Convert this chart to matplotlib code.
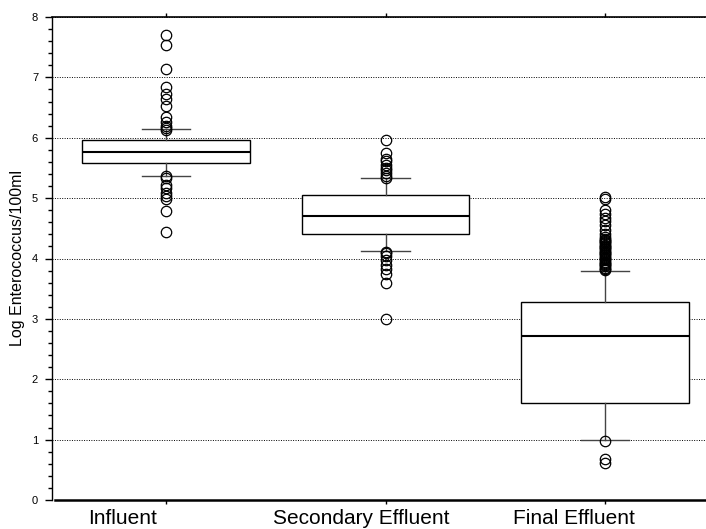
import matplotlib
matplotlib.use("Agg")
import matplotlib.pyplot as plt
import matplotlib.transforms as mtransforms

plt.rcParams['font.family'] = ['Liberation Sans', 'DejaVu Sans']

# groups and box statistics (log Enterococcus / 100 ml)
groups = ["Influent", "Secondary Effluent", "Final Effluent"]
medians = [5.77, 4.71, 2.71]
q1 = [5.59, 4.41, 1.60]
q3 = [5.96, 5.06, 3.28]
whislo = [5.37, 4.12, 0.99]
whishi = [6.14, 5.33, 3.80]

# outliers
fliers_influent = [7.71, 7.53, 7.14, 6.84, 6.72, 6.64, 6.52, 6.34, 6.26, 6.20,
                   6.16, 6.13, 5.36, 5.33, 5.22, 5.16, 5.09, 5.03, 4.98, 4.78, 4.44]
fliers_secondary = [5.96, 5.74, 5.65, 5.61, 5.55, 5.50, 5.46, 5.41, 5.37, 5.34,
                    4.11, 4.09, 4.04, 3.98, 3.90, 3.83, 3.75, 3.60, 2.99]
fliers_final = [5.02, 4.98, 4.81, 4.74, 4.67, 4.62, 4.55, 4.48, 4.40, 4.35, 4.33,
                4.31, 4.29, 4.27, 4.25, 4.23, 4.21, 4.19, 4.17, 4.15, 4.13, 4.11,
                4.09, 4.07, 4.05, 4.03, 4.01, 3.99, 3.97, 3.95, 3.93, 3.91, 3.89,
                3.87, 3.85, 3.83, 3.81, 0.98, 0.68, 0.62]
fliers = [fliers_influent, fliers_secondary, fliers_final]

label_shift = [-0.43, -0.24, -0.31]  # inches, labels sit left of the ticks

stats = []
for i in range(len(groups)):
    stats.append({"med": medians[i], "q1": q1[i], "q3": q3[i],
                  "whislo": whislo[i], "whishi": whishi[i],
                  "fliers": fliers[i], "label": groups[i]})

fig = plt.figure(figsize=(7.06, 5.29), dpi=100)
ax = fig.add_axes([52 / 706, 29 / 529, 667 / 706, 483 / 529])

ax.bxp(stats, positions=[0, 1, 2], widths=0.765, capwidths=0.22,
       patch_artist=True, manage_ticks=False,
       boxprops=dict(facecolor="white", edgecolor="black", linewidth=1.0),
       medianprops=dict(color="black", linewidth=1.5),
       whiskerprops=dict(color="#444444", linewidth=1.0),
       capprops=dict(color="#444444", linewidth=1.0),
       flierprops=dict(marker="o", markerfacecolor="none", markeredgecolor="black",
                       markersize=7.5, markeredgewidth=0.9, linestyle="none"),
       zorder=3)

ax.set_xlim(-0.519, 2.519)
ax.set_ylim(0, 8)
ax.set_yticks(range(0, 9))
ax.set_yticks([i * 0.2 for i in range(41)], minor=True)
ax.yaxis.grid(True, which="major", color="black", linestyle=(0, (1, 1.5)),
              linewidth=0.7)
ax.set_axisbelow(True)

# x tick marks only; the group names are placed as texts below
ax.set_xticks([0, 1, 2])
ax.set_xticklabels([])
base = mtransforms.blended_transform_factory(ax.transData, ax.transAxes)
for i, name in enumerate(groups):
    off = mtransforms.ScaledTranslation(label_shift[i], -0.095, fig.dpi_scale_trans)
    ax.text(i, 0, name, transform=base + off, ha="center", va="top",
            fontsize=15, clip_on=False)

ax.tick_params(axis="x", which="both", direction="out", length=3, width=1,
               top=True, labeltop=False)
ax.tick_params(axis="y", which="major", direction="out", length=5, width=1,
               labelsize=8, pad=5)
ax.tick_params(axis="y", which="minor", direction="out", length=3, width=1)

ax.set_ylabel("Log Enterococcus/100ml", fontsize=11.5, labelpad=5)

ax.spines["right"].set_visible(False)
ax.spines["top"].set_linewidth(1.2)
ax.spines["bottom"].set_linewidth(1.8)
ax.spines["bottom"].set_bounds(-0.505, 2.519)
ax.spines["left"].set_linewidth(1.0)

plt.savefig("out.png", dpi=100)
